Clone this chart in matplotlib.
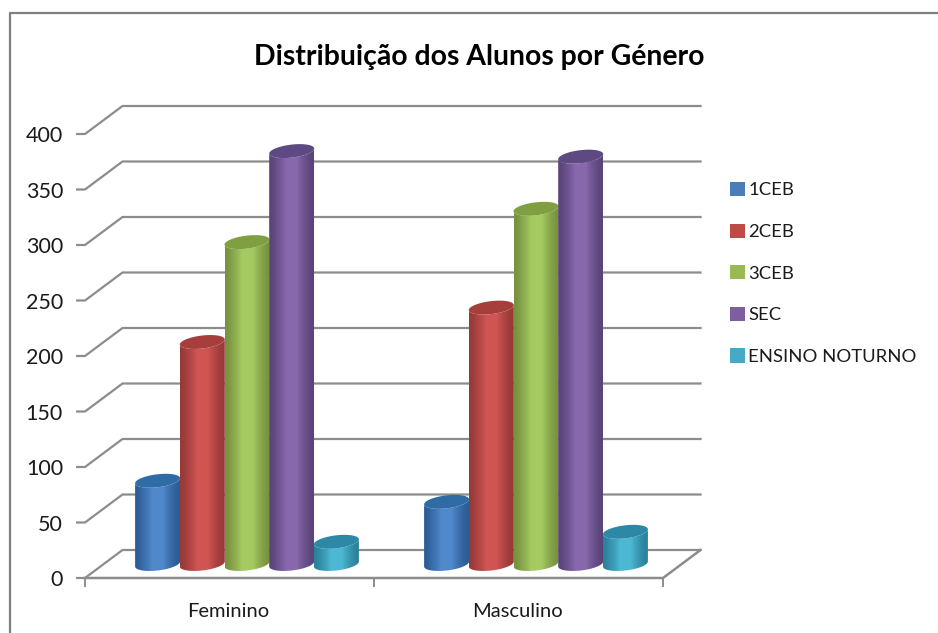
import numpy as np
import matplotlib
matplotlib.use('Agg')
import matplotlib.pyplot as plt
from matplotlib.patches import Patch, PathPatch
from matplotlib.path import Path
from matplotlib.colors import LinearSegmentedColormap

plt.rcParams['font.family'] = ['Lato', 'DejaVu Sans']

# data
categories = ['Feminino', 'Masculino']
series_names = ['1CEB', '2CEB', '3CEB', 'SEC', 'ENSINO NOTURNO']
feminino = [75, 200, 290, 372, 20]
masculino = [56, 231, 320, 367, 29]
yticks = [0, 50, 100, 150, 200, 250, 300, 350, 400]

# colours: edge, middle, top of the cylinder, legend
dark_colors = ['#2c5c94', '#963a38', '#76923f', '#594478', '#2b8199']
mid_colors = ['#5088cc', '#d05452', '#a6ca62', '#8868ac', '#4cb8d4']
top_colors = ['#2f6ca6', '#a63f3c', '#7f9f40', '#5d4a82', '#2e87a6']
legend_colors = ['#4a7ebb', '#be4b48', '#98b954', '#7d5fa0', '#46aac5']

PX_X = 289.0    # pixels for one category
PX_Y = 1.11     # pixels for one unit of value
ZERO_X = 229.5  # pixel of the first category centre on the floor front
ZERO_Y = 578.0  # pixel of value 0 on the front

DEPTH_X = 37.5 / PX_X
DEPTH_Y = 28.0 / PX_Y
BAR_SHIFT = 17.5 / PX_X
BAR_STEP = 44.7 / PX_X
BAR_W = 45.0 / PX_X
BASE_Y = 14.0 / PX_Y
ELL_H = 6.5 / PX_Y
ELL_TILT = 2.5 / PX_Y
GRAY = '#8c8c8c'


def cylinder(ax, xc, val, i):
	a = BAR_W / 2
	t_low = np.linspace(np.pi, 2 * np.pi, 40)
	t_up = np.linspace(0, 2 * np.pi, 80)
	base = BASE_Y
	top = BASE_Y + val
	# lower half of the base, then the far half of the top
	xs = np.concatenate([xc + a * np.cos(t_low), xc + a * np.cos(t_low[::-1])])
	low_y = base + ELL_H * np.sin(t_low) + ELL_TILT * np.cos(t_low)
	up_y = top + ELL_H * np.sin(t_low[::-1]) + ELL_TILT * np.cos(t_low[::-1])
	ys = np.concatenate([low_y, up_y])
	body = PathPatch(Path(np.column_stack([xs, ys])), facecolor='none', edgecolor='none', zorder=3 + i)
	ax.add_patch(body)
	cmap = LinearSegmentedColormap.from_list('c', [dark_colors[i], mid_colors[i], mid_colors[i], dark_colors[i]])
	grad = np.array([[0, 0.12, 0.2, 0.35, 0.5, 0.65, 0.8, 0.9, 1.0]])
	im = ax.imshow(grad, cmap=cmap, extent=(xc - a, xc + a, base - ELL_H - ELL_TILT, top + ELL_H + ELL_TILT),
		aspect='auto', interpolation='bicubic', zorder=3 + i)
	im.set_clip_path(body)
	cap_x = xc + a * np.cos(t_up)
	cap_y = top + ELL_H * np.sin(t_up) + ELL_TILT * np.cos(t_up)
	ax.fill(cap_x, cap_y, color=top_colors[i], lw=0, zorder=3 + i)


fig = plt.figure(figsize=(9.38, 6.33), dpi=100)
ax = fig.add_axes([0, 0, 1, 1])
ax.axis('off')

# outer frame, only left and top are in the crop
ax.plot([0.0105, 0.0105, 1.0], [0.0, 0.979, 0.979], transform=ax.transAxes, color='#7f7f7f', lw=1.6, clip_on=False)

# walls and grid
x_left = -0.5
x_right = 1.5
for v in yticks:
	ax.plot([x_left - 0.027, x_left, x_left + DEPTH_X, x_right + DEPTH_X], [v, v, v + DEPTH_Y, v + DEPTH_Y], color=GRAY, lw=1.6, zorder=1)
	ax.text(x_left - 0.076, v - 2, str(v), ha='right', va='center', fontsize=15.5, color='#1a1a1a')

# floor
ax.plot([x_left, x_right, x_right + DEPTH_X], [0, 0, DEPTH_Y], color=GRAY, lw=1.8, zorder=1)
for x in [x_left, 0.5, x_right]:
	ax.plot([x, x], [0, -7], color=GRAY, lw=1.4, zorder=1)

for c, name in enumerate(categories):
	ax.text(c - 0.005, -30, name, ha='center', va='center', fontsize=14.5, color='#1a1a1a')

for c, values in enumerate([feminino, masculino]):
	for i, val in enumerate(values):
		cylinder(ax, c + BAR_SHIFT + (i - 2) * BAR_STEP, val, i)

ax.set_xlim(-ZERO_X / PX_X, (938 - ZERO_X) / PX_X)
ax.set_ylim(-(633 - ZERO_Y) / PX_Y, ZERO_Y / PX_Y)

ax.text(479 / 938, 1 - 57 / 633, 'Distribuição dos Alunos por Género', transform=ax.transAxes,
	ha='center', va='center', fontsize=20.4, fontweight='bold', color='black')

handles = [Patch(facecolor=c, edgecolor='none', label=n) for c, n in zip(legend_colors, series_names)]
ax.legend(handles=handles, loc='upper left', bbox_to_anchor=(730 / 938, 1 - 182 / 633), frameon=False,
	fontsize=13.3, handlelength=0.8, handleheight=0.8, handletextpad=0.2, labelspacing=1.36,
	borderpad=0, borderaxespad=0, labelcolor='#1a1a1a')

plt.savefig('out.png', dpi=100)
